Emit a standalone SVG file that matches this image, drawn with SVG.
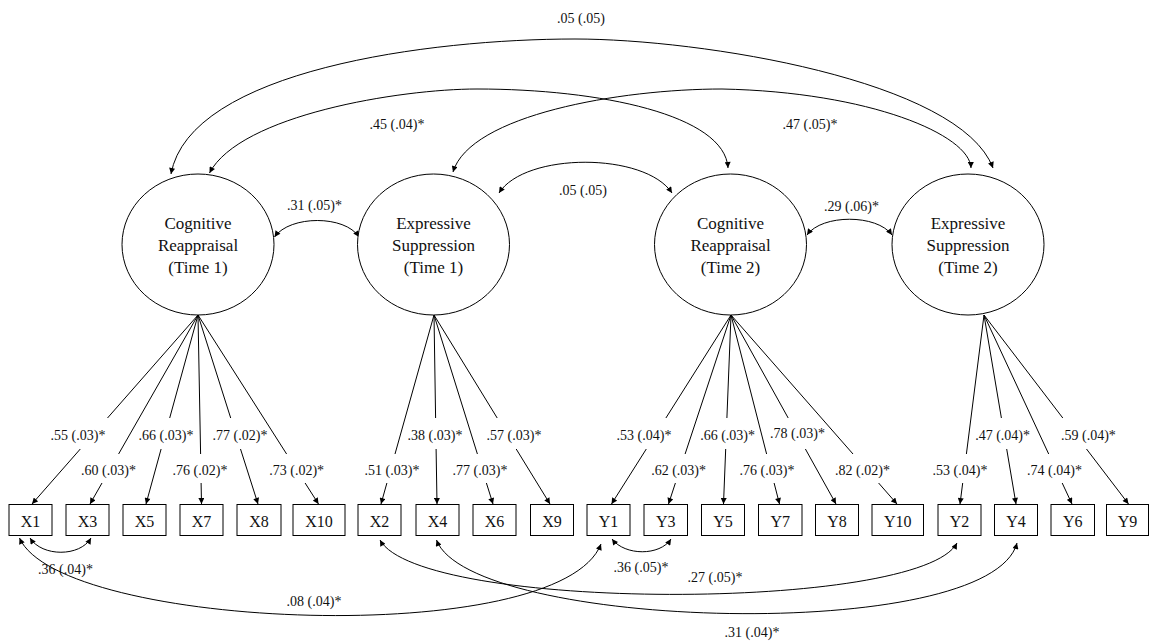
<svg xmlns="http://www.w3.org/2000/svg" width="1149" height="642" viewBox="0 0 1149 642">
<defs>
<marker id="ah" viewBox="0 0 10 10" refX="10" refY="5" markerWidth="7" markerHeight="6" markerUnits="userSpaceOnUse" orient="auto-start-reverse"><path d="M0,0 L10,5 L0,10 z" fill="#000"/></marker>
<style>
.n ellipse,.n rect{fill:#fff;stroke:#000;stroke-width:1}
.n text{font-family:"Liberation Serif","Times New Roman",serif;fill:#111;text-anchor:middle}
.lat text{font-size:17px}
.obs text{font-size:16px}
.c path{fill:none;stroke:#000;stroke-width:1}
.c .ld{marker-end:url(#ah)}
.c .cv{marker-start:url(#ah);marker-end:url(#ah)}
.lbl{font-family:"Liberation Serif","Times New Roman",serif;font-size:14px;fill:#111;text-anchor:middle}
</style>
</defs>
<rect width="1149" height="642" fill="#fff"/>
<g id="connectors" class="c">
<!-- latent covariances -->
<path class="cv" d="M171,174 C190,70 430,39 575,39 C700,39 960,80 993,168"/>
<path class="cv" d="M209.5,173 C240,115 400,89 477,89 C600,89 725,115 728,168"/>
<path class="cv" d="M453,172 C470,115 620,89 722,89 C870,92 970,135 971,168"/>
<path class="cv" d="M499,193 C525,152 645,152 672,193"/>
<path class="cv" d="M274.5,237 C290,215 345,215 359,237"/>
<path class="cv" d="M807,235 C822,214 877,214 892,235"/>
<!-- loadings CR1 -->
<path class="ld" d="M198,315 L107.5,418 M80.3,449 L32,504"/>
<path class="ld" d="M198,315 L118.6,454 M102,483 L90,504"/>
<path class="ld" d="M198,315 L169.7,418 M161.1,449 L146,504"/>
<path class="ld" d="M198,315 L200.6,454 M201.1,483 L201.5,504"/>
<path class="ld" d="M198,315 L230.7,418 M240.5,449 L258,504"/>
<path class="ld" d="M198,315 L286.6,454 M305.1,483 L318.5,504"/>
<!-- loadings ES1 -->
<path class="ld" d="M434,315 L395,454 M386.9,483 L381,504"/>
<path class="ld" d="M434,315 L435.6,418 M436.1,449 L437,504"/>
<path class="ld" d="M434,315 L477.4,454 M486.4,483 L493,504"/>
<path class="ld" d="M434,315 L497.2,418 M516.2,449 L550,504"/>
<!-- loadings CR2 -->
<path class="ld" d="M731,315 L665.9,418 M646.3,449 L611.5,504"/>
<path class="ld" d="M731,315 L685.1,454 M675.4,483 L668.5,504"/>
<path class="ld" d="M731,315 L726.9,418 M725.7,449 L723.5,504"/>
<path class="ld" d="M731,315 L766.6,454 M774.1,483 L779.5,504"/>
<path class="ld" d="M731,315 L788.2,418 M805.4,449 L836,504"/>
<path class="ld" d="M731,315 L853,454 M878.6,483 L897,504"/>
<!-- loadings ES2 -->
<path class="ld" d="M984,315 L966.4,454 M962.7,483 L960,504"/>
<path class="ld" d="M984,315 L1001.4,418 M1006.7,449 L1016,504"/>
<path class="ld" d="M984,315 L1048.7,454 M1062.2,483 L1072,504"/>
<path class="ld" d="M984,315 L1062.8,418 M1086.5,449 L1128.5,504"/>
<!-- residual covariances -->
<path class="cv" d="M30,538 C42,557 80,557 91,538"/>
<path class="cv" d="M19.5,538 C60,630 560,650 601,544"/>
<path class="cv" d="M612,539 C625,556 660,556 671,539"/>
<path class="cv" d="M380,540 C420,612 920,612 957,543"/>
<path class="cv" d="M436.5,540 C470,630 990,645 1017,543"/>
</g>
<g id="labels">
<text class="lbl" x="581" y="23">.05 (.05)</text>
<text class="lbl" x="397" y="128.5">.45 (.04)*</text>
<text class="lbl" x="810" y="128.5">.47 (.05)*</text>
<text class="lbl" x="583" y="195">.05 (.05)</text>
<text class="lbl" x="314.5" y="210">.31 (.05)*</text>
<text class="lbl" x="851.5" y="211">.29 (.06)*</text>
<text class="lbl" x="78" y="439.5">.55 (.03)*</text>
<text class="lbl" x="108.5" y="475">.60 (.03)*</text>
<text class="lbl" x="166" y="439.5">.66 (.03)*</text>
<text class="lbl" x="200" y="475">.76 (.02)*</text>
<text class="lbl" x="240" y="439.5">.77 (.02)*</text>
<text class="lbl" x="296.7" y="475">.73 (.02)*</text>
<text class="lbl" x="392" y="475">.51 (.03)*</text>
<text class="lbl" x="435" y="439.5">.38 (.03)*</text>
<text class="lbl" x="480" y="475">.77 (.03)*</text>
<text class="lbl" x="514" y="439.5">.57 (.03)*</text>
<text class="lbl" x="644" y="439.5">.53 (.04)*</text>
<text class="lbl" x="678.6" y="475">.62 (.03)*</text>
<text class="lbl" x="727.6" y="439.5">.66 (.03)*</text>
<text class="lbl" x="767" y="475">.76 (.03)*</text>
<text class="lbl" x="797.5" y="438">.78 (.03)*</text>
<text class="lbl" x="862.5" y="475">.82 (.02)*</text>
<text class="lbl" x="960" y="475">.53 (.04)*</text>
<text class="lbl" x="1002.6" y="439.5">.47 (.04)*</text>
<text class="lbl" x="1054.5" y="475">.74 (.04)*</text>
<text class="lbl" x="1088.4" y="439.5">.59 (.04)*</text>
<text class="lbl" x="65.5" y="574">.36 (.04)*</text>
<text class="lbl" x="314" y="606">.08 (.04)*</text>
<text class="lbl" x="641" y="571.5">.36 (.05)*</text>
<text class="lbl" x="715" y="581.5">.27 (.05)*</text>
<text class="lbl" x="752" y="636.5">.31 (.04)*</text>
</g>
<g id="CR1" class="n lat"><ellipse cx="198" cy="244.5" rx="76" ry="70.5"/><text x="198" y="229">Cognitive</text><text x="198" y="251">Reappraisal</text><text x="198" y="273">(Time 1)</text></g>
<g id="ES1" class="n lat"><ellipse cx="433.5" cy="244.5" rx="76" ry="70.5"/><text x="433.5" y="229">Expressive</text><text x="433.5" y="251">Suppression</text><text x="433.5" y="273">(Time 1)</text></g>
<g id="CR2" class="n lat"><ellipse cx="730.5" cy="244.5" rx="76" ry="70.5"/><text x="730.5" y="229">Cognitive</text><text x="730.5" y="251">Reappraisal</text><text x="730.5" y="273">(Time 2)</text></g>
<g id="ES2" class="n lat"><ellipse cx="968" cy="244.5" rx="76" ry="70.5"/><text x="968" y="229">Expressive</text><text x="968" y="251">Suppression</text><text x="968" y="273">(Time 2)</text></g>
<g id="X1" class="n obs"><rect x="9" y="504.5" width="43" height="31"/><text x="30.5" y="526.5">X1</text></g>
<g id="X3" class="n obs"><rect x="66" y="504.5" width="43" height="31"/><text x="87.5" y="526.5">X3</text></g>
<g id="X5" class="n obs"><rect x="123" y="504.5" width="43" height="31"/><text x="144.5" y="526.5">X5</text></g>
<g id="X7" class="n obs"><rect x="180" y="504.5" width="43" height="31"/><text x="201.5" y="526.5">X7</text></g>
<g id="X8" class="n obs"><rect x="237" y="504.5" width="44" height="31"/><text x="259" y="526.5">X8</text></g>
<g id="X10" class="n obs"><rect x="293" y="504.5" width="52" height="31"/><text x="319" y="526.5">X10</text></g>
<g id="X2" class="n obs"><rect x="358" y="504.5" width="43" height="31"/><text x="379.5" y="526.5">X2</text></g>
<g id="X4" class="n obs"><rect x="416" y="504.5" width="43" height="31"/><text x="437.5" y="526.5">X4</text></g>
<g id="X6" class="n obs"><rect x="473" y="504.5" width="43" height="31"/><text x="494.5" y="526.5">X6</text></g>
<g id="X9" class="n obs"><rect x="530.5" y="504.5" width="43" height="31"/><text x="552" y="526.5">X9</text></g>
<g id="Y1" class="n obs"><rect x="587" y="504.5" width="43" height="31"/><text x="608.5" y="526.5">Y1</text></g>
<g id="Y3" class="n obs"><rect x="644" y="504.5" width="43.5" height="31"/><text x="665.75" y="526.5">Y3</text></g>
<g id="Y5" class="n obs"><rect x="701.5" y="504.5" width="43" height="31"/><text x="723" y="526.5">Y5</text></g>
<g id="Y7" class="n obs"><rect x="758.5" y="504.5" width="43.5" height="31"/><text x="780.25" y="526.5">Y7</text></g>
<g id="Y8" class="n obs"><rect x="815.5" y="504.5" width="43" height="31"/><text x="837" y="526.5">Y8</text></g>
<g id="Y10" class="n obs"><rect x="872" y="504.5" width="51.5" height="31"/><text x="897.75" y="526.5">Y10</text></g>
<g id="Y2" class="n obs"><rect x="938" y="504.5" width="43" height="31"/><text x="959.5" y="526.5">Y2</text></g>
<g id="Y4" class="n obs"><rect x="994.5" y="504.5" width="43" height="31"/><text x="1016" y="526.5">Y4</text></g>
<g id="Y6" class="n obs"><rect x="1051" y="504.5" width="43.5" height="31"/><text x="1072.75" y="526.5">Y6</text></g>
<g id="Y9" class="n obs"><rect x="1106.5" y="504.5" width="42" height="31"/><text x="1127.5" y="526.5">Y9</text></g>
</svg>
